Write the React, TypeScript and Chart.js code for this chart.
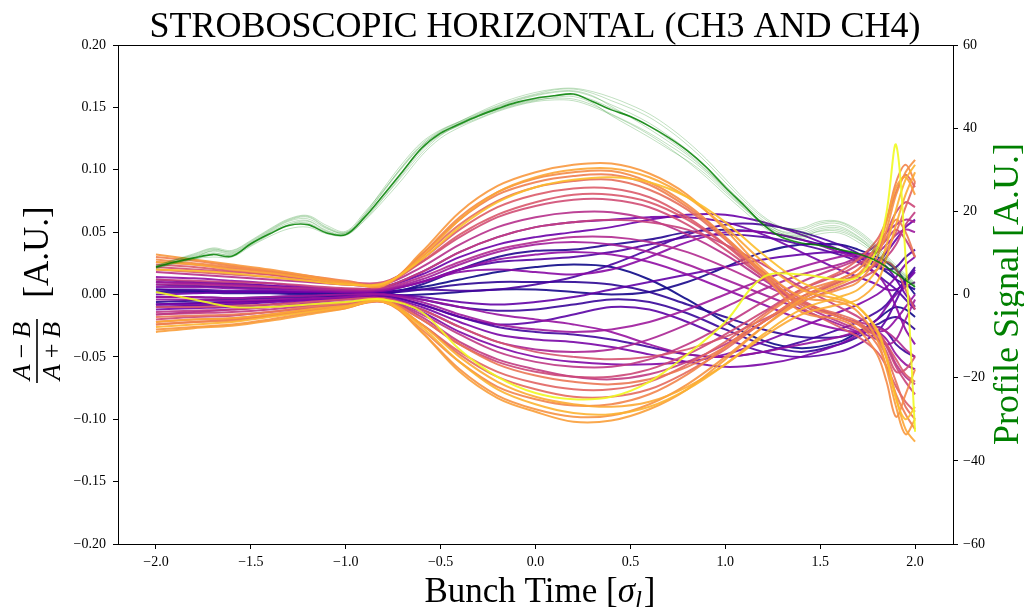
import React, { useEffect, useRef } from 'react';
import { Chart, registerables } from 'chart.js';
Chart.register(...registerables);

const SERIF = "'Liberation Serif', 'Times New Roman', 'DejaVu Serif', serif";

const TITLE = 'STROBOSCOPIC HORIZONTAL (CH3 AND CH4)';
const Y2_LABEL = 'Profile Signal [A.U.]';

// bunch-time samples for the turn-by-turn difference signals
const X_T = [-2.0, -1.8, -1.6, -1.4, -1.2, -1.0, -0.8, -0.6, -0.4, -0.2, 0.0, 0.2, 0.4, 0.6, 0.8, 1.0, 1.2, 1.4, 1.6, 1.7, 1.8, 1.85, 1.9, 1.95, 2.0];

const turn01 = [.004, .003, .002, .002, .001, .001, .002, .006, .012, .018, .022, .024, .022, .012, -.004, -.022, -.037, -.043, -.038, -.030, -.020, -.014, -.010, -.012, -.018];
const turn02 = [-.008, -.007, -.006, -.005, -.003, -.002, -.001, .000, .002, .004, .004, .002, .000, .002, .010, .022, .034, .040, .040, .036, .030, .026, .020, .010, .000];
const turn03 = [-.006, -.005, -.004, -.003, -.002, -.001, .000, .008, .020, .030, .035, .036, .040, .044, .050, .052, .050, .044, .036, .030, .022, .018, .012, .008, .004];
const turn04 = [.002, .002, .001, .001, .000, .000, .001, .004, .008, .010, .010, .010, .008, .002, -.008, -.018, -.028, -.034, -.034, -.030, -.024, -.020, -.018, -.022, -.028];
const turn05 = [.008, .007, .006, .005, .004, .002, .001, -.004, -.010, -.013, -.012, -.008, -.004, -.006, -.015, -.028, -.040, -.046, -.040, -.034, -.026, -.030, -.040, -.046, -.050];
const turn06 = [-.010, -.009, -.008, -.006, -.004, -.002, -.001, -.008, -.018, -.026, -.030, -.032, -.036, -.042, -.048, -.050, -.046, -.038, -.028, -.022, -.014, -.008, .002, .012, .022];
const turn07 = [-.002, -.002, -.003, -.002, -.001, .000, .002, .004, .003, .004, .008, .014, .024, .036, .048, .056, .056, .050, .040, .033, .024, .020, .022, .030, .036];
const turn08 = [.004, .004, .003, .003, .002, .002, .003, .010, .020, .026, .028, .030, .034, .040, .046, .048, .046, .040, .032, .026, .016, .010, .004, -.004, -.012];
const turn09 = [.012, .010, .009, .007, .005, .003, .000, -.008, -.018, -.024, -.022, -.016, -.010, -.012, -.022, -.035, -.046, -.050, -.046, -.040, -.030, -.020, -.005, .010, .020];
const turn10 = [-.008, -.007, -.006, -.005, -.004, -.002, .000, -.002, -.006, -.008, -.006, -.002, .004, .010, .016, .022, .028, .032, .034, .032, .028, .022, .012, .000, -.010];
const turn11 = [.000, .001, .002, .002, .002, .003, .006, .016, .030, .040, .046, .050, .054, .060, .064, .064, .058, .048, .036, .030, .026, .034, .044, .054, .060];
const turn12 = [.010, .009, .008, .007, .005, .004, .006, .018, .034, .046, .054, .058, .060, .062, .062, .058, .048, .034, .020, .014, .008, .004, .004, .010, .018];
const turn13 = [-.012, -.011, -.010, -.008, -.005, -.003, -.002, -.010, -.022, -.032, -.036, -.038, -.042, -.048, -.054, -.058, -.056, -.050, -.040, -.032, -.020, -.010, .000, .006, .010];
const turn14 = [-.008, -.008, -.007, -.006, -.004, -.003, -.003, -.014, -.030, -.042, -.050, -.054, -.056, -.056, -.054, -.048, -.038, -.026, -.014, -.008, .000, .006, .014, .024, .030];
const turn15 = [.006, .006, .005, .004, .003, .002, .003, .010, .018, .020, .018, .016, .020, .030, .042, .050, .050, .044, .034, .028, .016, .006, -.010, -.028, -.040];
const turn16 = [.014, .013, .011, .009, .006, .004, .004, .010, .020, .028, .032, .034, .032, .026, .016, .004, -.008, -.020, -.028, -.030, -.030, -.028, -.020, -.010, .000];
const turn17 = [-.004, -.004, -.005, -.004, -.003, -.002, .000, -.004, -.010, -.016, -.020, -.024, -.030, -.040, -.048, -.050, -.046, -.040, -.034, -.030, -.030, -.036, -.048, -.056, -.060];
const turn18 = [-.002, -.002, -.003, -.002, -.001, .000, .000, -.006, -.016, -.024, -.028, -.030, -.028, -.022, -.012, .000, .012, .022, .030, .032, .034, .040, .048, .052, .050];
const turn19 = [.010, .009, .008, .006, .004, .003, .004, .012, .024, .034, .040, .042, .040, .034, .024, .012, .000, -.012, -.024, -.030, -.036, -.040, -.036, -.020, -.004];
const turn20 = [-.016, -.014, -.012, -.010, -.007, -.004, -.003, -.012, -.026, -.038, -.044, -.046, -.044, -.036, -.024, -.010, .004, .016, .024, .030, .040, .050, .056, .060, .058];
const turn21 = [.008, .008, .007, .006, .005, .004, .005, .014, .026, .036, .042, .046, .046, .042, .034, .022, .008, -.006, -.018, -.022, -.026, -.030, -.036, -.044, -.050];
const turn22 = [.018, .016, .014, .012, .010, .008, .008, .022, .040, .054, .062, .066, .066, .060, .048, .032, .012, -.008, -.022, -.028, -.032, -.040, -.056, -.066, -.072];
const turn23 = [-.014, -.013, -.012, -.010, -.008, -.006, -.004, -.016, -.032, -.046, -.054, -.058, -.058, -.052, -.040, -.024, -.006, .010, .022, .028, .036, .044, .052, .044, .030];
const turn24 = [-.016, -.015, -.014, -.012, -.009, -.006, -.004, -.018, -.038, -.052, -.060, -.066, -.068, -.064, -.054, -.040, -.022, -.004, .010, .016, .024, .030, .040, .056, .066];
const turn25 = [.012, .011, .010, .009, .007, .005, .006, .018, .034, .046, .054, .058, .060, .058, .052, .040, .024, .006, -.010, -.018, -.030, -.042, -.058, -.070, -.080];
const turn26 = [-.020, -.018, -.017, -.014, -.011, -.008, -.005, -.020, -.040, -.054, -.062, -.066, -.066, -.060, -.048, -.032, -.014, .004, .016, .024, .036, .050, .066, .074, .070];
const turn27 = [.022, .020, .018, .016, .013, .010, .010, .026, .046, .062, .071, .076, .076, .070, .056, .036, .014, -.006, -.018, -.024, -.034, -.046, -.062, -.060, -.050];
const turn28 = [-.010, -.010, -.009, -.008, -.006, -.004, -.003, -.012, -.026, -.038, -.046, -.050, -.052, -.050, -.044, -.034, -.020, -.006, .006, .012, .020, .026, .020, .004, -.012];
const turn29 = [.020, .018, .016, .014, .011, .008, .008, .026, .048, .064, .074, .080, .080, .074, .060, .040, .018, -.004, -.018, -.024, -.030, -.040, -.052, -.064, -.070];
const turn30 = [.024, .022, .019, .016, .012, .009, .009, .028, .052, .070, .080, .085, .085, .078, .062, .040, .014, -.010, -.026, -.034, -.046, -.058, -.074, -.086, -.094];
const turn31 = [-.022, -.020, -.019, -.016, -.012, -.009, -.006, -.024, -.046, -.062, -.071, -.076, -.076, -.070, -.056, -.038, -.016, .004, .018, .028, .044, .060, .082, .096, .086];
const turn32 = [-.024, -.022, -.020, -.017, -.013, -.010, -.006, -.024, -.048, -.066, -.076, -.082, -.082, -.076, -.062, -.044, -.022, -.002, .010, .016, .026, .036, .050, .070, .090];
const turn33 = [.026, .024, .021, .018, .014, .010, .008, .030, .056, .075, .086, .091, .092, .084, .068, .044, .016, -.006, -.016, -.022, -.036, -.050, -.070, -.090, -.100];
const turn34 = [-.018, -.017, -.016, -.014, -.010, -.007, -.004, -.020, -.040, -.056, -.065, -.070, -.072, -.068, -.058, -.042, -.022, -.002, .012, .020, .034, .046, .060, .050, .030];
const turn35 = [.030, .027, .023, .019, .015, .011, .008, .032, .060, .080, .090, .095, .096, .088, .070, .046, .018, -.008, -.018, -.024, -.040, -.058, -.080, -.096, -.108];
const turn36 = [-.024, -.022, -.021, -.017, -.013, -.010, -.006, -.028, -.054, -.074, -.084, -.089, -.088, -.080, -.064, -.042, -.018, .002, .012, .020, .040, .060, .090, .104, .090];
const turn37 = [.028, .025, .022, .018, .014, .010, .008, .032, .062, .082, .093, .098, .099, .090, .072, .046, .016, -.014, -.020, -.028, -.048, -.070, -.098, -.080, -.060];
const turn38 = [-.028, -.026, -.024, -.020, -.015, -.011, -.005, -.030, -.060, -.081, -.092, -.098, -.097, -.088, -.072, -.050, -.026, -.006, .004, .010, .030, .052, .080, .098, .108];
const turn39 = [.032, .028, .024, .020, .015, .010, .007, .034, .066, .087, .098, .104, .105, .097, .080, .052, .020, -.002, -.006, -.014, -.036, -.060, -.090, -.112, -.100];
const turn40 = [-.030, -.027, -.025, -.021, -.016, -.011, -.004, -.030, -.062, -.083, -.094, -.102, -.101, -.092, -.076, -.052, -.026, -.004, .008, .016, .036, .058, .086, .094, .080];
const turn41 = [.026, .024, .020, .017, .013, .009, .008, .030, .060, .082, .094, .100, .101, .094, .078, .054, .026, .004, -.004, -.010, -.030, -.052, -.082, -.108, -.118];
const turn42 = [-.022, -.020, -.019, -.016, -.012, -.009, -.005, -.024, -.050, -.070, -.082, -.088, -.090, -.086, -.074, -.056, -.034, -.016, -.008, -.004, .010, .030, .056, .080, .098];
const turn43 = [-.026, -.024, -.022, -.018, -.014, -.010, -.006, -.026, -.054, -.076, -.088, -.095, -.096, -.090, -.076, -.056, -.032, -.012, -.002, .004, .020, .040, .068, .092, .104];
const turn44 = [.020, .019, .017, .014, .011, .008, .009, .028, .054, .074, .086, .092, .094, .090, .078, .058, .032, .010, -.002, -.010, -.028, -.050, -.084, -.100, -.090];
const turn45 = [.002, -.004, -.010, -.010, -.008, -.006, -.004, -.014, -.044, -.066, -.079, -.084, -.082, -.070, -.048, -.022, .014, .016, .012, .014, .036, .066, .120, .030, -.110];

const TURNS = [turn01, turn02, turn03, turn04, turn05, turn06, turn07, turn08, turn09, turn10,
  turn11, turn12, turn13, turn14, turn15, turn16, turn17, turn18, turn19, turn20,
  turn21, turn22, turn23, turn24, turn25, turn26, turn27, turn28, turn29, turn30,
  turn31, turn32, turn33, turn34, turn35, turn36, turn37, turn38, turn39, turn40,
  turn41, turn42, turn43, turn44, turn45];

// bunch-time samples for the longitudinal profile
const X_P = [-2.0, -1.9, -1.8, -1.7, -1.6, -1.5, -1.4, -1.3, -1.2, -1.1, -1.0, -0.9, -0.8, -0.7, -0.6, -0.5, -0.4, -0.3, -0.2, -0.1, 0.0,
  0.1, 0.2, 0.3, 0.4, 0.5, 0.6, 0.7, 0.8, 0.9, 1.0, 1.1, 1.2, 1.3, 1.4, 1.5, 1.6, 1.7, 1.8, 1.9, 2.0];

const profileMean = [6.6, 7.8, 8.8, 9.6, 9.2, 12.2, 14.6, 16.6, 16.8, 14.8, 14.4, 18.6, 24.0, 29.6, 35.2, 38.8, 41.0, 43.0, 44.7, 46.2, 47.2,
  47.8, 48.2, 46.4, 44.4, 42.8, 40.5, 37.8, 34.6, 30.6, 25.8, 21.4, 16.8, 13.7, 12.4, 11.8, 10.8, 9.8, 8.0, 5.0, 1.8];
const profile01 = [6.8, 8.2, 9.6, 11.0, 10.2, 12.6, 15.4, 17.8, 18.6, 16.0, 14.8, 19.4, 25.6, 31.6, 36.6, 39.6, 41.6, 43.6, 45.4, 47.0, 48.2,
  49.2, 49.4, 48.4, 46.6, 44.8, 42.6, 39.6, 36.0, 31.8, 27.0, 22.4, 18.4, 15.8, 15.6, 17.2, 17.4, 15.0, 11.2, 6.6, 2.4];
const profile02 = [6.4, 7.6, 8.6, 9.0, 9.0, 11.6, 14.0, 15.8, 16.2, 14.6, 14.2, 17.8, 22.6, 27.8, 33.4, 37.6, 40.2, 42.2, 44.0, 45.4, 46.4,
  46.8, 46.6, 45.2, 43.2, 41.0, 38.4, 35.4, 32.0, 28.2, 24.0, 20.0, 16.2, 13.8, 13.4, 14.6, 14.8, 12.6, 9.4, 5.6, 2.0];
const profile03 = [6.6, 8.0, 9.2, 10.4, 9.8, 12.2, 15.0, 17.2, 17.8, 15.4, 14.6, 19.0, 24.8, 30.6, 35.8, 39.2, 41.4, 43.2, 45.0, 46.6, 47.8,
  48.6, 48.8, 47.6, 45.6, 43.6, 41.2, 38.2, 34.8, 30.8, 26.2, 21.8, 17.8, 15.0, 14.6, 16.2, 16.4, 14.0, 10.4, 6.2, 2.2];
const profile04 = [6.2, 7.4, 8.4, 9.8, 9.6, 11.8, 14.4, 16.8, 17.6, 15.2, 14.4, 18.0, 23.2, 28.6, 34.0, 38.2, 40.8, 42.8, 44.4, 45.8, 46.8,
  47.2, 47.0, 45.6, 43.4, 41.2, 38.8, 36.0, 33.0, 29.4, 25.0, 20.8, 17.0, 14.6, 14.2, 15.8, 16.0, 13.8, 10.0, 5.8, 2.0];
const profile05 = [7.0, 8.4, 9.8, 11.2, 10.6, 13.0, 15.8, 18.2, 19.0, 16.6, 15.2, 19.8, 25.2, 30.8, 35.8, 39.0, 41.2, 43.4, 45.2, 46.8, 48.0,
  48.8, 49.0, 47.8, 45.2, 42.6, 39.8, 36.8, 33.6, 29.8, 25.4, 21.0, 17.4, 15.2, 15.0, 16.8, 17.0, 14.6, 10.8, 6.4, 2.6];
const profile06 = [6.5, 7.9, 9.0, 10.0, 9.4, 12.0, 14.8, 16.8, 17.2, 15.0, 14.4, 18.6, 24.2, 29.8, 35.0, 38.6, 40.8, 42.8, 44.6, 46.0, 47.0,
  47.8, 48.0, 46.8, 44.8, 42.8, 40.4, 37.4, 34.0, 30.0, 25.6, 21.2, 17.2, 14.6, 14.0, 15.2, 15.2, 13.2, 9.8, 5.8, 2.2];
const profile07 = [6.4, 7.6, 8.8, 10.6, 10.0, 12.4, 15.2, 17.6, 18.2, 15.8, 14.8, 18.4, 23.4, 29.0, 34.6, 38.4, 40.6, 42.4, 44.2, 45.6, 46.6,
  47.4, 47.6, 46.0, 43.0, 40.4, 37.8, 35.0, 32.2, 28.8, 24.6, 20.6, 16.8, 14.2, 13.8, 15.4, 15.6, 13.4, 9.6, 5.4, 1.8];
const profile08 = [6.9, 8.3, 9.4, 10.8, 10.4, 12.8, 15.6, 18.0, 18.8, 16.2, 15.0, 19.2, 25.0, 31.0, 36.2, 39.4, 41.6, 43.8, 45.8, 47.4, 48.6,
  49.4, 49.6, 48.8, 47.4, 45.6, 43.4, 40.4, 36.8, 32.6, 27.8, 23.0, 18.8, 16.2, 16.0, 17.6, 17.6, 15.4, 11.6, 7.0, 2.8];

const PROFILES = [profile01, profile02, profile03, profile04, profile05, profile06, profile07, profile08];

const X_TICKS = [-2.0, -1.5, -1.0, -0.5, 0.0, 0.5, 1.0, 1.5, 2.0];
const Y_TICKS = [-0.20, -0.15, -0.10, -0.05, 0.00, 0.05, 0.10, 0.15, 0.20];
const Y2_TICKS = [-60, -40, -20, 0, 20, 40, 60];

// style: position of each turn in the plasma colour map
const TURN_COLOR_POS = [0.00, 0.02, 0.04, 0.06, 0.08, 0.10, 0.12, 0.14, 0.16, 0.18,
  0.20, 0.22, 0.24, 0.26, 0.28, 0.30, 0.32, 0.34, 0.35, 0.38,
  0.40, 0.42, 0.45, 0.46, 0.48, 0.50, 0.52, 0.54, 0.56, 0.57,
  0.60, 0.62, 0.63, 0.66, 0.68, 0.70, 0.72, 0.74, 0.76, 0.78,
  0.80, 0.81, 0.83, 0.86, 1.00];

const PLASMA = [[13, 8, 135], [65, 4, 157], [106, 0, 168], [143, 13, 164], [177, 42, 144], [204, 71, 120],
  [225, 100, 98], [242, 132, 75], [252, 166, 54], [252, 206, 37], [240, 249, 33]];

function plasma(t: number, a: number): string {
  const p = Math.max(0, Math.min(1, t)) * 10;
  const i = Math.min(9, Math.floor(p));
  const f = p - i;
  const c = PLASMA[i].map((v, k) => Math.round(v + (PLASMA[i + 1][k] - v) * f));
  return `rgba(${c[0]},${c[1]},${c[2]},${a})`;
}

const minus = (s: string) => s.replace('-', '\u2212');

const labelPlugin = {
  id: 'labelPlugin',
  afterDraw(chart: any) {
    const ctx = chart.ctx as CanvasRenderingContext2D;
    const ca = chart.chartArea;
    ctx.save();
    // frame
    ctx.strokeStyle = '#000';
    ctx.lineWidth = 1;
    ctx.strokeRect(Math.round(ca.left) + 0.5, Math.round(ca.top) + 0.5, Math.round(ca.right - ca.left), Math.round(ca.bottom - ca.top));

    // title
    ctx.fillStyle = '#000';
    ctx.textBaseline = 'alphabetic';
    ctx.textAlign = 'center';
    ctx.font = `36px ${SERIF}`;
    ctx.fillText(TITLE, 535, 37);

    // x label: Bunch Time [σ_l]
    ctx.textAlign = 'left';
    const f1 = `35px ${SERIF}`;
    const f2 = `italic 35px ${SERIF}`;
    const f3 = `italic 25px ${SERIF}`;
    ctx.font = f1; const w1 = ctx.measureText('Bunch Time [').width; const w4 = ctx.measureText(']').width;
    ctx.font = f2; const w2 = ctx.measureText('\u03c3').width;
    ctx.font = f3; const w3 = ctx.measureText('l').width;
    const total = w1 + w2 + w3 + w4 + 2;
    let xx = 540 - total / 2;
    const by = 602;
    ctx.font = f1; ctx.fillText('Bunch Time [', xx, by); xx += w1;
    ctx.font = f2; ctx.fillText('\u03c3', xx, by); xx += w2;
    ctx.font = f3; ctx.fillText('l', xx, by + 6); xx += w3 + 2;
    ctx.font = f1; ctx.fillText(']', xx, by);

    // left label: (A-B)/(A+B) [A.U.]
    ctx.save();
    ctx.translate(0, 295);
    ctx.rotate(-Math.PI / 2);
    ctx.font = `35px ${SERIF}`;
    ctx.textAlign = 'center';
    ctx.fillText('[A.U.]', 43, 48);
    const drawExpr = (op: string, v: number) => {
      const fi = `italic 26px ${SERIF}`;
      const fo = `26px ${SERIF}`;
      ctx.font = fi; const wa = ctx.measureText('A').width; const wb = ctx.measureText('B').width;
      ctx.font = fo; const wo = ctx.measureText(op).width;
      const gap = 6;
      const tw = wa + wb + wo + 2 * gap;
      let u = -56 - tw / 2;
      ctx.textAlign = 'left';
      ctx.font = fi; ctx.fillText('A', u, v); u += wa + gap;
      ctx.font = fo; ctx.fillText(op, u, v); u += wo + gap;
      ctx.font = fi; ctx.fillText('B', u, v);
    };
    drawExpr('\u2212', 30);
    drawExpr('+', 60);
    ctx.lineWidth = 1.6;
    ctx.beginPath();
    ctx.moveTo(-88, 37);
    ctx.lineTo(-24, 37);
    ctx.stroke();
    ctx.restore();

    // right label
    ctx.save();
    ctx.translate(1018, 294);
    ctx.rotate(-Math.PI / 2);
    ctx.fillStyle = '#008000';
    ctx.font = `36px ${SERIF}`;
    ctx.textAlign = 'center';
    ctx.fillText(Y2_LABEL, 0, 0);
    ctx.restore();

    ctx.restore();
  },
};

export default function App() {
  const ref = useRef<HTMLCanvasElement>(null);
  useEffect(() => {
    if (!ref.current) return;
    Chart.defaults.font.family = SERIF;
    const datasets: any[] = [];
    TURNS.forEach((ys, i) => {
      datasets.push({
        data: X_T.map((x, j) => ({ x, y: ys[j] })),
        borderColor: plasma(TURN_COLOR_POS[i], 0.9),
        borderWidth: 2,
        pointRadius: 0,
        tension: 0.35,
        yAxisID: 'y',
      });
    });
    PROFILES.forEach((ys) => {
      datasets.push({
        data: X_P.map((x, j) => ({ x, y: ys[j] })),
        borderColor: 'rgba(0,128,0,0.28)',
        borderWidth: 0.9,
        pointRadius: 0,
        tension: 0.35,
        yAxisID: 'y2',
      });
    });
    datasets.push({
      data: X_P.map((x, j) => ({ x, y: profileMean[j] })),
      borderColor: 'rgba(0,128,0,0.85)',
      borderWidth: 1.6,
      pointRadius: 0,
      tension: 0.35,
      yAxisID: 'y2',
    });
    const n = datasets.length;
    datasets.forEach((d, i) => { d.order = n - i; });

    const tickFont = { family: SERIF, size: 14 };
    const chart = new Chart(ref.current, {
      type: 'line',
      data: { datasets },
      options: {
        animation: false,
        responsive: false,
        devicePixelRatio: 1,
        events: [],
        layout: { padding: { top: 45, left: 0, right: 0, bottom: 0 } },
        plugins: { legend: { display: false }, tooltip: { enabled: false }, title: { display: false } },
        scales: {
          x: {
            type: 'linear',
            min: -2.2,
            max: 2.2,
            afterBuildTicks: (s: any) => { s.ticks = X_TICKS.map((v) => ({ value: v })); },
            afterFit: (s: any) => { s.height = 63; },
            ticks: { font: tickFont, color: '#000', padding: 5, maxRotation: 0, autoSkip: false, callback: (v: any) => minus(Number(v).toFixed(1)) },
            grid: { drawOnChartArea: false, tickLength: 5, tickColor: '#000' },
            border: { display: false },
          },
          y: {
            type: 'linear',
            position: 'left',
            min: -0.2,
            max: 0.2,
            afterBuildTicks: (s: any) => { s.ticks = Y_TICKS.map((v) => ({ value: v })); },
            afterFit: (s: any) => { s.width = 118; },
            ticks: { font: tickFont, color: '#000', padding: 7, autoSkip: false, callback: (v: any) => minus(Number(v).toFixed(2)) },
            grid: { drawOnChartArea: false, tickLength: 5, tickColor: '#000' },
            border: { display: false },
          },
          y2: {
            type: 'linear',
            position: 'right',
            min: -60,
            max: 60,
            afterBuildTicks: (s: any) => { s.ticks = Y2_TICKS.map((v) => ({ value: v })); },
            afterFit: (s: any) => { s.width = 71; },
            ticks: { font: tickFont, color: '#000', padding: 5, autoSkip: false, callback: (v: any) => minus(String(Math.round(Number(v)))) },
            grid: { drawOnChartArea: false, tickLength: 5, tickColor: '#000' },
            border: { display: false },
          },
        },
      },
      plugins: [labelPlugin],
    } as any);
    return () => chart.destroy();
  }, []);

  return (
    <div style={{ position: 'fixed', left: 0, top: 0, width: 1024, height: 607, background: '#fff' }}>
      <canvas ref={ref} width={1024} height={607} style={{ width: 1024, height: 607, display: 'block' }} />
    </div>
  );
}
